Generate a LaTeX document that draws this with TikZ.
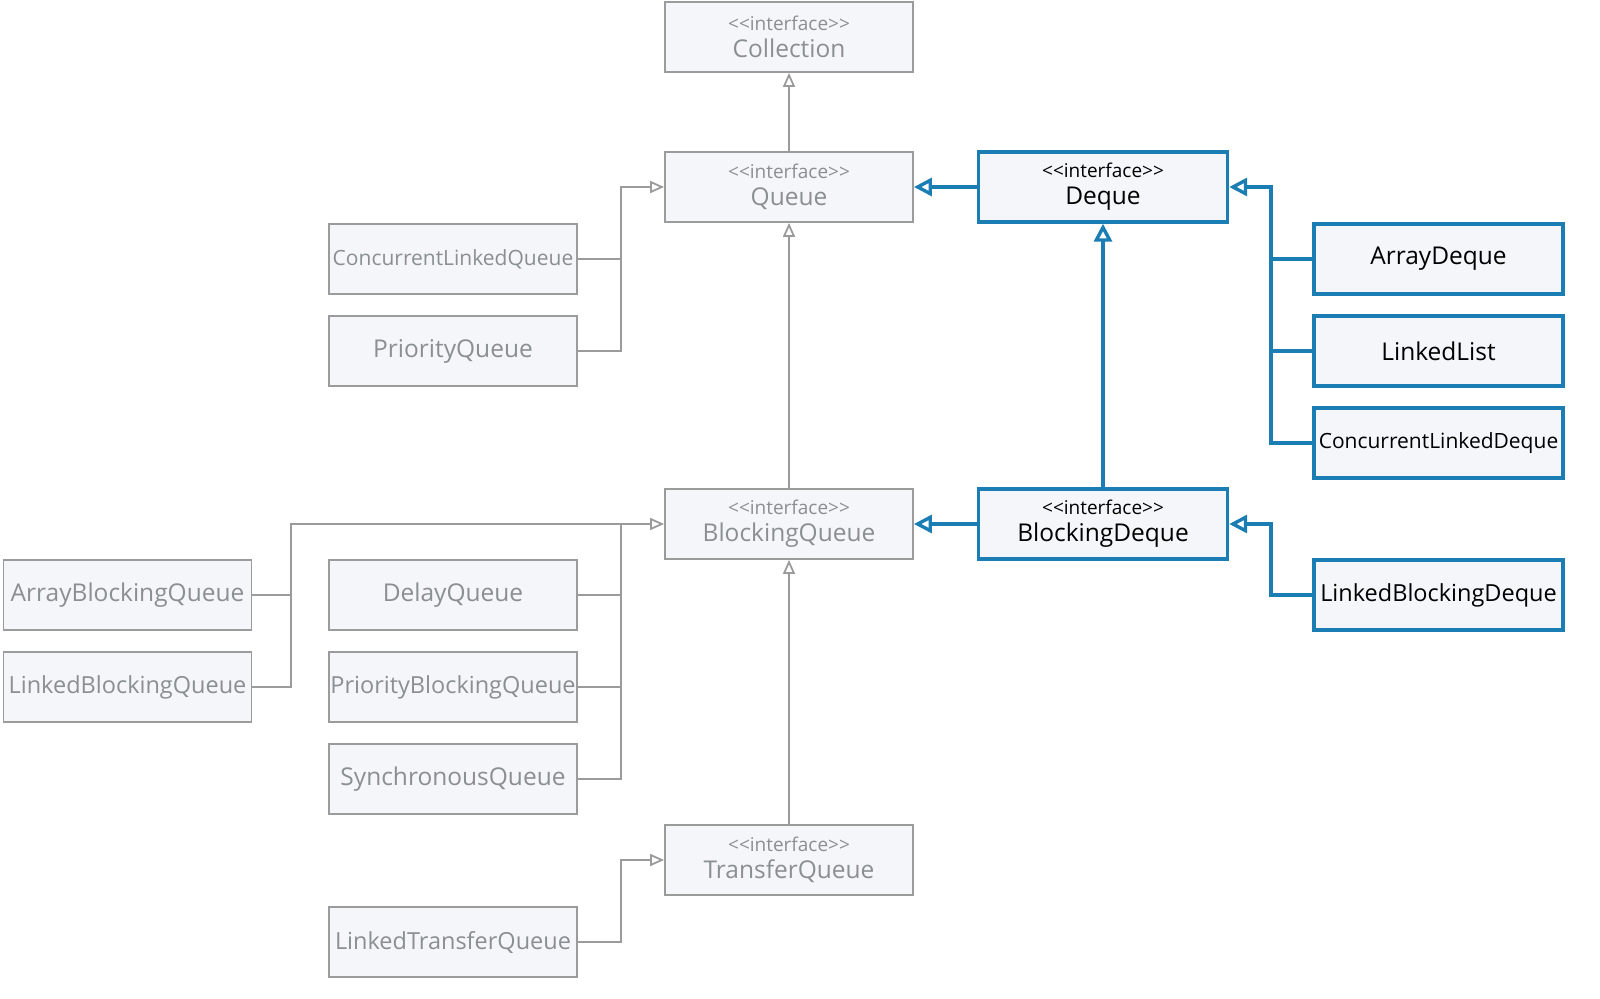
\documentclass[tikz,border=0pt]{standalone}
\usepackage{fontspec}
\setmainfont{Open Sans}[Ligatures=TeXOff]
\usetikzlibrary{arrows.meta}
\definecolor{gline}{HTML}{9B9B9B}
\definecolor{gtext}{HTML}{8A8F94}
\definecolor{bfill}{HTML}{F4F6F9}
\definecolor{bblue}{HTML}{1A7DB3}
\newcommand{\ifc}[1]{{\fontsize{19}{22}\selectfont <<interface>>}\\[-2pt]{\fontsize{24.5}{29}\selectfont #1}}
\begin{document}
\begin{tikzpicture}[x=1pt,y=-1pt,
  gbox/.style={draw=gline,line width=1.8pt,fill=bfill,minimum width=248pt,minimum height=70pt,inner sep=0pt,text=gtext,align=center,font=\fontsize{24.5}{29}\selectfont},
  bbox/.style={draw=bblue,line width=3.4pt,fill=bfill,minimum width=249pt,minimum height=70pt,inner sep=0pt,text=black,align=center,font=\fontsize{24.5}{29}\selectfont},
  small/.style={font=\fontsize{21}{25}\selectfont},
  long/.style={font=\fontsize{23.5}{28}\selectfont},
  gl/.style={draw=gline,line width=1.8pt},
  garr/.style={gl,-{Triangle[open,length=14pt,width=12pt,line width=1.8pt]}},
  bl/.style={draw=bblue,line width=3.4pt},
  barr/.style={bl,-{Triangle[open,length=18pt,width=18pt,line width=3.4pt]}}
]
\useasboundingbox[fill=white] (0,0) rectangle (1600,998);
% interfaces
\node[gbox] (coll) at (789,37) {\ifc{Collection}};
\node[gbox] (queue) at (789,187) {\ifc{Queue}};
\node[bbox] (deque) at (1103,187) {\ifc{Deque}};
\node[gbox] (bq) at (789,524) {\ifc{BlockingQueue}};
\node[bbox] (bd) at (1103,524) {\ifc{BlockingDeque}};
\node[gbox] (tq) at (789,860) {\ifc{TransferQueue}};
% classes
\node[gbox,small] (clq) at (453,259) {ConcurrentLinkedQueue};
\node[gbox] (pq) at (453,351) {PriorityQueue};
\node[bbox] (ad) at (1438.5,259) {ArrayDeque};
\node[bbox] (ll) at (1438.5,351) {LinkedList};
\node[bbox,small] (cld) at (1438.5,443) {ConcurrentLinkedDeque};
\node[bbox,long] (lbd) at (1438.5,595) {LinkedBlockingDeque};
\node[gbox] (abq) at (127.5,595) {ArrayBlockingQueue};
\node[gbox,long] (lbq) at (127.5,687) {LinkedBlockingQueue};
\node[gbox] (dq) at (453,595) {DelayQueue};
\node[gbox,long] (pbq) at (453,687) {PriorityBlockingQueue};
\node[gbox] (sq) at (453,779) {SynchronousQueue};
\node[gbox,long] (ltq) at (453,942) {LinkedTransferQueue};
% junctions
\coordinate (jq) at (621,187);
\coordinate (jd) at (1271,187);
\coordinate (jbd) at (1271,524);
\coordinate (jb1) at (291,524);
\coordinate (jb2) at (621,524);
\coordinate (jt) at (621,860);
% gray connectors
\draw[garr] (queue.north) -- (coll.south);
\draw[garr] (bq.north) -- (queue.south);
\draw[garr] (tq.north) -- (bq.south);
\draw[garr] (clq.east) -| (jq) -- (queue.west);
\draw[gl] (pq.east) -| (jq);
\draw[garr] (abq.east) -| (jb1) -- (bq.west);
\draw[gl] (lbq.east) -| (jb1);
\draw[gl] (dq.east) -| (jb2);
\draw[gl] (pbq.east) -| (jb2);
\draw[gl] (sq.east) -| (jb2);
\draw[garr] (ltq.east) -| (jt) -- (tq.west);
% blue connectors
\draw[barr] (deque.west) -- (queue.east);
\draw[barr] (bd.north) -- (deque.south);
\draw[barr] (bd.west) -- (bq.east);
\draw[barr] (ad.west) -| (jd) -- (deque.east);
\draw[bl] (ll.west) -| (jd);
\draw[bl] (cld.west) -| (jd);
\draw[barr] (lbd.west) -| (jbd) -- (bd.east);
\end{tikzpicture}
\end{document}
